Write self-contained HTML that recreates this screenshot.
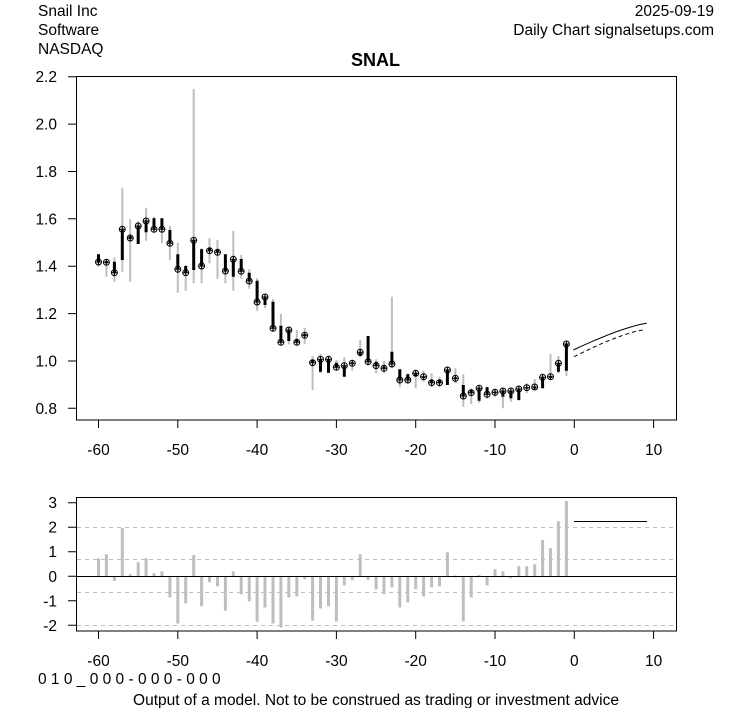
<!DOCTYPE html>
<html>
<head>
<meta charset="utf-8">
<style>
html,body{margin:0;padding:0;background:#fff;}
svg{display:block;}
text{font-family:"Liberation Sans",Arial,sans-serif;font-size:15.5px;fill:#000;}
</style>
</head>
<body>
<svg width="753" height="708" viewBox="0 0 753 708" xmlns="http://www.w3.org/2000/svg">
<rect width="753" height="708" fill="#fff"/>

<!-- header text -->
<text x="38" y="16">Snail Inc</text>
<text x="38" y="35">Software</text>
<text x="38" y="54">NASDAQ</text>
<text x="714" y="16" text-anchor="end">2025-09-19</text>
<text x="714" y="35" text-anchor="end">Daily Chart signalsetups.com</text>
<text x="375.5" y="66" text-anchor="middle" style="font-weight:bold;font-size:18px">SNAL</text>

<!-- top panel -->
<g stroke="#bebebe" stroke-width="2" fill="none">
<path d="M98.5 254V266.7 M106.4 260V276.7 M114.4 257.3V281.7 M122.3 187.7V271.7 M130.2 219.3V281.7 M138.2 221V244 M146.1 207.7V240.7 M154 216.7V231.7 M161.9 218.3V243.3 M169.9 225.7V260 M177.8 242.7V292.7 M185.7 265V290.7 M193.7 89V283.3 M201.6 248.3V283.3 M209.5 238.3V263.3 M217.5 240V278.7 M225.4 254.3V283.3 M233.3 231V290.7 M241.2 255V278.7 M249.2 269.3V288.7 M257.1 278.3V310.7 M265 295V308.3 M273 299V331.7 M280.9 314V344.3 M288.8 326.7V344.3 M296.8 330V344.3 M304.7 327.7V344.3 M312.6 356V390 M320.5 354V373.3 M328.5 355.7V373.3 M336.4 360V370 M344.3 357.3V376.7 M352.3 360V370.7 M360.2 340V357.3 M368.1 336V364 M376.1 359.3V373.3 M384 361V373.3 M391.9 296.7V368.3 M399.8 369.3V387.3 M407.8 373.3V383.3 M415.7 370V388.3 M423.6 370.7V381.7 M431.6 373.3V387.3 M439.5 376.7V386.7 M447.4 368.3V385 M455.4 368.3V383.3 M463.3 374.3V406.7 M471.2 388.3V404 M479.1 386V402.7 M487.1 386.7V398.7 M495 389.3V396.7 M502.9 388.3V408.3 M510.9 387.3V401.7 M518.8 386.7V400.7 M526.7 383.3V393.3 M534.7 379V390 M542.6 375V388.3 M550.5 354V380 M558.4 356V373.3 M566.4 341.7V376"/>
</g>
<g stroke="#000" stroke-width="3" fill="none">
<path d="M98.5 254.3V262 M106.4 261V263.3 M114.4 261.7V272.7 M122.3 260V229.3 M130.2 236V239 M138.2 244V226 M146.1 232.3V221 M154 218.3V229.3 M161.9 218.3V229.3 M169.9 230V243.3 M177.8 254.3V269.3 M185.7 266V272.7 M193.7 270V240.3 M201.6 249.3V266 M209.5 248V250.7 M217.5 250V252.3 M225.4 254.3V271 M233.3 276.7V259.3 M241.2 259V271.3 M249.2 272.7V281 M257.1 280.7V302 M265 305V297 M273 301.7V328.3 M280.9 325.7V342.3 M288.8 341V330 M296.8 340V342.3 M304.7 334V336.3 M312.6 359.5V363 M320.5 371.7V359.3 M328.5 372.7V359.3 M336.4 362.7V367.3 M344.3 376.7V365.7 M352.3 362.3V364.3 M360.2 356V352.3 M368.1 336V361.7 M376.1 361.7V365.7 M384 366.5V369 M391.9 351.7V364 M399.8 369.3V380 M407.8 374.3V380 M415.7 376V373.3 M423.6 378V376.7 M431.6 380V382.7 M439.5 380V382.7 M447.4 385V370 M455.4 377.3V379.3 M463.3 385V396 M471.2 390V392.7 M479.1 400.7V388.3 M487.1 387.3V394.3 M495 393.3V391.8 M502.9 396.7V391 M510.9 398.3V391 M518.8 400V389 M526.7 388.5V387.2 M534.7 388.5V386.5 M542.6 388.3V377.3 M550.5 378V376.2 M558.4 371.7V363.3 M566.4 370.7V344"/>
</g>
<g stroke="#000" stroke-width="1" fill="none">
<circle cx="98.5" cy="262" r="3"/><circle cx="106.4" cy="262.3" r="3"/><circle cx="114.4" cy="272.7" r="3"/><circle cx="122.3" cy="229.3" r="3"/><circle cx="130.2" cy="238" r="3"/><circle cx="138.2" cy="226" r="3"/><circle cx="146.1" cy="221" r="3"/><circle cx="154" cy="229.3" r="3"/><circle cx="161.9" cy="229.3" r="3"/><circle cx="169.9" cy="243.3" r="3"/><circle cx="177.8" cy="269.3" r="3"/><circle cx="185.7" cy="272.7" r="3"/><circle cx="193.7" cy="240.3" r="3"/><circle cx="201.6" cy="266" r="3"/><circle cx="209.5" cy="250.7" r="3"/><circle cx="217.5" cy="252.3" r="3"/><circle cx="225.4" cy="271" r="3"/><circle cx="233.3" cy="259.3" r="3"/><circle cx="241.2" cy="271.3" r="3"/><circle cx="249.2" cy="281" r="3"/><circle cx="257.1" cy="302" r="3"/><circle cx="265" cy="297" r="3"/><circle cx="273" cy="328.3" r="3"/><circle cx="280.9" cy="342.3" r="3"/><circle cx="288.8" cy="330" r="3"/><circle cx="296.8" cy="342.3" r="3"/><circle cx="304.7" cy="335.3" r="3"/><circle cx="312.6" cy="362.7" r="3"/><circle cx="320.5" cy="359.3" r="3"/><circle cx="328.5" cy="359.3" r="3"/><circle cx="336.4" cy="367.3" r="3"/><circle cx="344.3" cy="365.7" r="3"/><circle cx="352.3" cy="363.3" r="3"/><circle cx="360.2" cy="352.3" r="3"/><circle cx="368.1" cy="361.7" r="3"/><circle cx="376.1" cy="365.7" r="3"/><circle cx="384" cy="368.3" r="3"/><circle cx="391.9" cy="364" r="3"/><circle cx="399.8" cy="380" r="3"/><circle cx="407.8" cy="380" r="3"/><circle cx="415.7" cy="373.3" r="3"/><circle cx="423.6" cy="376.7" r="3"/><circle cx="431.6" cy="382.7" r="3"/><circle cx="439.5" cy="382.7" r="3"/><circle cx="447.4" cy="370" r="3"/><circle cx="455.4" cy="378.3" r="3"/><circle cx="463.3" cy="396" r="3"/><circle cx="471.2" cy="392.7" r="3"/><circle cx="479.1" cy="388.3" r="3"/><circle cx="487.1" cy="394.3" r="3"/><circle cx="495" cy="392.3" r="3"/><circle cx="502.9" cy="391" r="3"/><circle cx="510.9" cy="391" r="3"/><circle cx="518.8" cy="389" r="3"/><circle cx="526.7" cy="387.7" r="3"/><circle cx="534.7" cy="387" r="3"/><circle cx="542.6" cy="377.3" r="3"/><circle cx="550.5" cy="376.7" r="3"/><circle cx="558.4" cy="363.3" r="3"/><circle cx="566.4" cy="344" r="3"/>
</g>
<g stroke="#000" stroke-width="1" fill="none">
<path d="M98.5 259v6m-3 -3h6 M106.4 259.3v6m-3 -3h6 M114.4 269.7v6m-3 -3h6 M122.3 226.3v6m-3 -3h6 M130.2 235v6m-3 -3h6 M138.2 223v6m-3 -3h6 M146.1 218v6m-3 -3h6 M154 226.3v6m-3 -3h6 M161.9 226.3v6m-3 -3h6 M169.9 240.3v6m-3 -3h6 M177.8 266.3v6m-3 -3h6 M185.7 269.7v6m-3 -3h6 M193.7 237.3v6m-3 -3h6 M201.6 263v6m-3 -3h6 M209.5 247.7v6m-3 -3h6 M217.5 249.3v6m-3 -3h6 M225.4 268v6m-3 -3h6 M233.3 256.3v6m-3 -3h6 M241.2 268.3v6m-3 -3h6 M249.2 278v6m-3 -3h6 M257.1 299v6m-3 -3h6 M265 294v6m-3 -3h6 M273 325.3v6m-3 -3h6 M280.9 339.3v6m-3 -3h6 M288.8 327v6m-3 -3h6 M296.8 339.3v6m-3 -3h6 M304.7 332.3v6m-3 -3h6 M312.6 359.7v6m-3 -3h6 M320.5 356.3v6m-3 -3h6 M328.5 356.3v6m-3 -3h6 M336.4 364.3v6m-3 -3h6 M344.3 362.7v6m-3 -3h6 M352.3 360.3v6m-3 -3h6 M360.2 349.3v6m-3 -3h6 M368.1 358.7v6m-3 -3h6 M376.1 362.7v6m-3 -3h6 M384 365.3v6m-3 -3h6 M391.9 361v6m-3 -3h6 M399.8 377v6m-3 -3h6 M407.8 377v6m-3 -3h6 M415.7 370.3v6m-3 -3h6 M423.6 373.7v6m-3 -3h6 M431.6 379.7v6m-3 -3h6 M439.5 379.7v6m-3 -3h6 M447.4 367v6m-3 -3h6 M455.4 375.3v6m-3 -3h6 M463.3 393v6m-3 -3h6 M471.2 389.7v6m-3 -3h6 M479.1 385.3v6m-3 -3h6 M487.1 391.3v6m-3 -3h6 M495 389.3v6m-3 -3h6 M502.9 388v6m-3 -3h6 M510.9 388v6m-3 -3h6 M518.8 386v6m-3 -3h6 M526.7 384.7v6m-3 -3h6 M534.7 384v6m-3 -3h6 M542.6 374.3v6m-3 -3h6 M550.5 373.7v6m-3 -3h6 M558.4 360.3v6m-3 -3h6 M566.4 341v6m-3 -3h6"/>
</g>
<!-- forecast lines -->
<polyline points="573.3,350 580.6,346.6 588,343.3 595.3,340.1 602.7,337.1 610,334.1 617.3,331.4 624.7,328.9 632,326.6 639.4,324.6 646.7,323.3" fill="none" stroke="#000" stroke-width="1"/>
<polyline points="574,356.7 580.9,353.3 587.7,350 594.6,346.8 601.5,343.7 608.4,340.8 615.2,338.1 622.1,335.6 629,333.3 635.8,331.3 642.7,330" fill="none" stroke="#000" stroke-width="1" stroke-dasharray="4 3"/>

<rect x="76.5" y="76.5" width="600" height="343.5" fill="none" stroke="#000" stroke-width="1"/>
<!-- top y ticks -->
<g stroke="#000" stroke-width="1">
<path d="M68 408.3H76.5 M68 361H76.5 M68 313.6H76.5 M68 266.2H76.5 M68 218.8H76.5 M68 171.5H76.5 M68 124.1H76.5 M68 76.7H76.5"/>
<path d="M98.5 420V428 M177.8 420V428 M257.1 420V428 M336.4 420V428 M415.7 420V428 M495 420V428 M574.3 420V428 M653.6 420V428"/>
</g>
<g text-anchor="end">
<text x="57" y="413.8">0.8</text>
<text x="57" y="366.5">1.0</text>
<text x="57" y="319.1">1.2</text>
<text x="57" y="271.7">1.4</text>
<text x="57" y="224.3">1.6</text>
<text x="57" y="177">1.8</text>
<text x="57" y="129.6">2.0</text>
<text x="57" y="82.2">2.2</text>
</g>
<g text-anchor="middle">
<text x="98.5" y="455">-60</text>
<text x="177.8" y="455">-50</text>
<text x="257.1" y="455">-40</text>
<text x="336.4" y="455">-30</text>
<text x="415.7" y="455">-20</text>
<text x="495" y="455">-10</text>
<text x="574.3" y="455">0</text>
<text x="653.6" y="455">10</text>
</g>

<!-- bottom panel -->
<g stroke="#bebebe" stroke-width="1" stroke-dasharray="4 4">
<path d="M77 527.5H676 M77 559.5H676 M77 592.5H676 M77 625.5H676"/>
</g>
<g stroke="#bebebe" stroke-width="3" fill="none">
<path d="M98.5 576.3V558.3 M106.4 576.3V554.2 M114.4 576.3V581 M122.3 576.3V528.1 M130.2 576.3V574.3 M138.2 576.3V562.3 M146.1 576.3V558.3 M154 576.3V573.3 M161.9 576.3V571.4 M169.9 576.3V597.5 M177.8 576.3V623.5 M185.7 576.3V603.4 M193.7 576.3V555.1 M201.6 576.3V606.3 M209.5 576.3V582.2 M217.5 576.3V586.4 M225.4 576.3V610.5 M233.3 576.3V571.4 M241.2 576.3V594.3 M249.2 576.3V601.4 M257.1 576.3V621.6 M265 576.3V607.5 M273 576.3V623.5 M280.9 576.3V627.5 M288.8 576.3V597.5 M296.8 576.3V596.5 M304.7 576.3V579.3 M312.6 576.3V620.6 M320.5 576.3V608.5 M328.5 576.3V606.3 M336.4 576.3V621.6 M344.3 576.3V585.4 M352.3 576.3V580.2 M360.2 576.3V554.2 M368.1 576.3V580 M376.1 576.3V589.3 M384 576.3V594.3 M391.9 576.3V587.4 M399.8 576.3V607.5 M407.8 576.3V602.4 M415.7 576.3V589.3 M423.6 576.3V596.5 M431.6 576.3V587.4 M439.5 576.3V586.4 M447.4 576.3V552.2 M455.4 575.5V577.5 M463.3 576.3V621.6 M471.2 576.3V597.5 M479.1 575V577 M487.1 576.3V585.4 M495 576.3V569.2 M502.9 576.3V571.4 M510.9 576.3V578.3 M518.8 576.3V566.2 M526.7 576.3V566.2 M534.7 576.3V564.2 M542.6 576.3V540.1 M550.5 576.3V548.3 M558.4 576.3V521.2 M566.4 576.3V501"/>
</g>
<path d="M77 576.5H676" stroke="#000" stroke-width="1"/>
<path d="M574 521.5H647" stroke="#000" stroke-width="1"/>
<rect x="76.5" y="497.5" width="600" height="133.5" fill="none" stroke="#000" stroke-width="1"/>
<g stroke="#000" stroke-width="1">
<path d="M68 502.7H76.5 M68 527.2H76.5 M68 551.7H76.5 M68 576.3H76.5 M68 600.8H76.5 M68 625.3H76.5"/>
<path d="M98.5 631V639 M177.8 631V639 M257.1 631V639 M336.4 631V639 M415.7 631V639 M495 631V639 M574.3 631V639 M653.6 631V639"/>
</g>
<g text-anchor="end">
<text x="57" y="508.2">3</text>
<text x="57" y="532.7">2</text>
<text x="57" y="557.2">1</text>
<text x="57" y="581.8">0</text>
<text x="57" y="606.3">-1</text>
<text x="57" y="630.8">-2</text>
</g>
<g text-anchor="middle">
<text x="98.5" y="666">-60</text>
<text x="177.8" y="666">-50</text>
<text x="257.1" y="666">-40</text>
<text x="336.4" y="666">-30</text>
<text x="415.7" y="666">-20</text>
<text x="495" y="666">-10</text>
<text x="574.3" y="666">0</text>
<text x="653.6" y="666">10</text>
</g>

<text x="38" y="684">0 1 0 _ 0 0 0 - 0 0 0 - 0 0 0</text>
<text x="376" y="705" text-anchor="middle">Output of a model. Not to be construed as trading or investment advice</text>
</svg>
</body>
</html>
